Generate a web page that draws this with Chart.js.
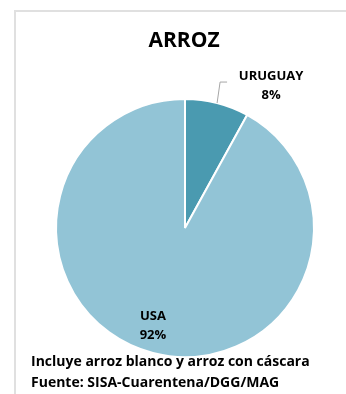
<!DOCTYPE html>
<html><head><meta charset="utf-8">
<script src="https://cdn.jsdelivr.net/npm/chart.js@4"></script>
<style>
html,body{margin:0;padding:0;background:#fff;overflow:hidden}
#wrap{position:relative;width:346px;height:394px}
#frame{position:absolute;left:14px;top:10px;right:-10px;bottom:-10px;border-left:2px solid #e0e0e0;border-top:2px solid #e0e0e0}
canvas{position:absolute;left:0;top:0}
</style></head><body>
<div id="wrap"><div id="frame"></div><canvas id="c" width="346" height="394"></canvas></div>
<script>
// Import shares of rice by origin (%)
const categories = ['URUGUAY', 'USA'];
const shares = [8, 92];
const sliceColors = ['#4A9AB0', '#92C4D6'];
const titleText = 'ARROZ';
const notes = ['Incluye arroz blanco y arroz con cáscara', 'Fuente: SISA-Cuarentena/DGG/MAG'];

const FONT = '"Open Sans", "Liberation Sans", sans-serif';

// Title, slice labels, leader line and footnotes drawn on the chart canvas
const annotate = {
  id: 'annotate',
  afterDatasetsDraw(chart) {
    const ctx = chart.ctx;
    const arcs = chart.getDatasetMeta(0).data;
    const total = shares.reduce((a, b) => a + b, 0);
    ctx.save();
    ctx.fillStyle = '#000';
    ctx.textAlign = 'center';
    ctx.textBaseline = 'alphabetic';

    ctx.font = 'bold 21px ' + FONT;
    ctx.fillText(titleText, 184, 47);

    arcs.forEach((arc, i) => {
      const {x, y, startAngle, endAngle, outerRadius} = arc.getProps(['x', 'y', 'startAngle', 'endAngle', 'outerRadius'], true);
      const mid = (startAngle + endAngle) / 2;
      const pct = Math.round(shares[i] / total * 100) + '%';
      ctx.font = 'bold 13px ' + FONT;
      if (i === 0) {
        // outside label with leader line
        const ex = x + outerRadius * Math.cos(mid);
        const ey = y + outerRadius * Math.sin(mid);
        const kx = ex + 3, ky = ey - 21;
        ctx.strokeStyle = '#a6a6a6';
        ctx.lineWidth = 1;
        ctx.beginPath();
        ctx.moveTo(ex, ey);
        ctx.lineTo(kx, ky);
        ctx.lineTo(kx + 7, ky);
        ctx.stroke();
        ctx.fillText(categories[i], kx + 51, ky - 2);
        ctx.fillText(pct, kx + 51, ky + 17);
      } else {
        const r = outerRadius * 0.78;
        const lx = x + r * Math.cos(mid) - 7;
        const ly = y + r * Math.sin(mid);
        ctx.fillText(categories[i], lx, ly - 5);
        ctx.fillText(pct, lx, ly + 14);
      }
    });

    ctx.textAlign = 'left';
    ctx.font = 'bold 14px ' + FONT;
    ctx.fillText(notes[0], 31, 366);
    ctx.fillText(notes[1], 31, 387);
    ctx.restore();
  }
};

new Chart(document.getElementById('c'), {
  type: 'pie',
  data: {
    labels: categories,
    datasets: [{
      data: shares,
      backgroundColor: sliceColors,
      borderColor: '#ffffff',
      borderWidth: 2
    }]
  },
  options: {
    responsive: false,
    devicePixelRatio: 1,
    animation: false,
    events: [],
    layout: {padding: {left: 55, right: 31, top: 98, bottom: 36}},
    plugins: {legend: {display: false}, title: {display: false}, tooltip: {enabled: false}}
  },
  plugins: [annotate]
});
</script>
</body></html>
